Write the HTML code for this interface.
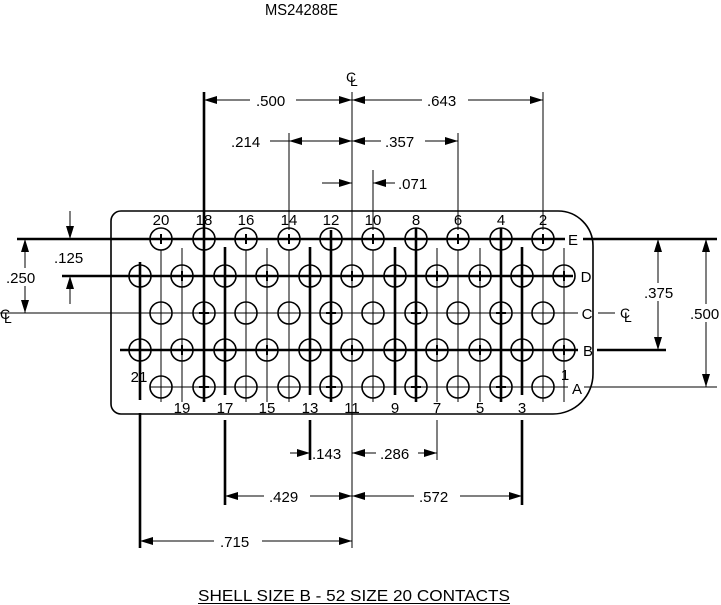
<!DOCTYPE html>
<html><head><meta charset="utf-8"><style>
html,body{margin:0;padding:0;background:#fff;}
svg{display:block;}
text{font-family:"Liberation Sans",Arial,sans-serif;fill:#000;}
</style></head><body>
<svg width="721" height="605" viewBox="0 0 721 605" xmlns="http://www.w3.org/2000/svg">
<defs>
<marker id="ar" markerWidth="13" markerHeight="8" refX="13" refY="4" orient="auto-start-reverse" markerUnits="userSpaceOnUse">
<path d="M0,0 L13,4 L0,8 z" fill="#000"/>
</marker>
<g id="c"><circle r="11" fill="none" stroke="#000" stroke-width="1.6"/></g>
<g id="p"><circle r="11" fill="none" stroke="#000" stroke-width="1.6"/><path d="M-5,0H5M0,-5V5" stroke="#000" stroke-width="2"/></g>
</defs>

<text x="265" y="15" font-size="16" textLength="73" lengthAdjust="spacingAndGlyphs">MS24288E</text>

<path d="M121,211 H558 A35,35 0 0 1 593,246 V374 A40,40 0 0 1 553,414 H121 A10,10 0 0 1 111,404 V221 A10,10 0 0 1 121,211 Z" fill="none" stroke="#000" stroke-width="1.6"/>

<g stroke="#000" stroke-width="1">
<path d="M161,250V402M182,248V402M246,250V402M267,248V402M289,250V402M352,92V548M373,250V402M437,248V402M458,250V402M480,248V402M543,250V402M564,248V402"/>
</g>
<g stroke="#000" stroke-width="2.6">
<path d="M140,262V400M140,413V548M204,92V402M225,247V395M225,420V505M310,247V395M310,420V460M331,230V402M395,247V395M416,228V402M501,228V402M522,247V395M522,420V505"/>
</g>
<g stroke="#000" stroke-width="1">
<path d="M543,92V230M289,133V230M458,133V230M373,170V230M437,420V460"/>
</g>

<g stroke="#000" stroke-width="2.6">
<path d="M17,239H565M583,239H717M62,276H573M120,350H578M597,350H666"/>
</g>
<g stroke="#000" stroke-width="1">
<path d="M0,313H578M598,313H615M150,387H568M584,387H717"/>
</g>

<g>
<use href="#p" x="161" y="239"/><use href="#p" x="204" y="239"/><use href="#p" x="246" y="239"/><use href="#p" x="289" y="239"/><use href="#p" x="331" y="239"/><use href="#p" x="373" y="239"/><use href="#p" x="416" y="239"/><use href="#p" x="458" y="239"/><use href="#p" x="501" y="239"/><use href="#p" x="543" y="239"/>
<use href="#p" x="140" y="276"/><use href="#p" x="182" y="276"/><use href="#p" x="225" y="276"/><use href="#p" x="267" y="276"/><use href="#p" x="310" y="276"/><use href="#p" x="352" y="276"/><use href="#p" x="395" y="276"/><use href="#p" x="437" y="276"/><use href="#p" x="480" y="276"/><use href="#p" x="522" y="276"/><use href="#p" x="564" y="276"/>
<use href="#c" x="161" y="313"/><use href="#p" x="204" y="313"/><use href="#c" x="246" y="313"/><use href="#c" x="289" y="313"/><use href="#p" x="331" y="313"/><use href="#c" x="373" y="313"/><use href="#p" x="416" y="313"/><use href="#c" x="458" y="313"/><use href="#p" x="501" y="313"/><use href="#c" x="543" y="313"/>
<use href="#p" x="140" y="350"/><use href="#p" x="182" y="350"/><use href="#p" x="225" y="350"/><use href="#p" x="267" y="350"/><use href="#p" x="310" y="350"/><use href="#p" x="352" y="350"/><use href="#p" x="395" y="350"/><use href="#p" x="437" y="350"/><use href="#p" x="480" y="350"/><use href="#p" x="522" y="350"/><use href="#p" x="564" y="350"/>
<use href="#c" x="161" y="387"/><use href="#p" x="204" y="387"/><use href="#c" x="246" y="387"/><use href="#c" x="289" y="387"/><use href="#p" x="331" y="387"/><use href="#c" x="373" y="387"/><use href="#p" x="416" y="387"/><use href="#c" x="458" y="387"/><use href="#p" x="501" y="387"/><use href="#c" x="543" y="387"/>
</g>

<g font-size="15" text-anchor="middle">
<text x="161" y="225">20</text><text x="204" y="225">18</text><text x="246" y="225">16</text><text x="289" y="225">14</text><text x="331" y="225">12</text><text x="373" y="225">10</text><text x="416" y="225">8</text><text x="458" y="225">6</text><text x="501" y="225">4</text><text x="543" y="225">2</text>
<text x="182" y="413">19</text><text x="225" y="413">17</text><text x="267" y="413">15</text><text x="310" y="413">13</text><text x="352" y="413">11</text><text x="395" y="413">9</text><text x="437" y="413">7</text><text x="480" y="413">5</text><text x="522" y="413">3</text>
<text x="139" y="382">21</text><text x="565" y="380">1</text>
<text x="573" y="245">E</text><text x="586" y="282">D</text><text x="587" y="319">C</text><text x="588" y="356">B</text><text x="577" y="394">A</text>
</g>

<g font-size="14">
<text x="346" y="82">C</text><text x="350" y="86">L</text>
<text x="0" y="319">C</text><text x="4" y="323">L</text>
<text x="620" y="318">C</text><text x="624" y="322">L</text>
</g>

<g stroke="#000" stroke-width="1" fill="none">
<line x1="204" y1="100" x2="352" y2="100" marker-start="url(#ar)" marker-end="url(#ar)"/>
<line x1="352" y1="100" x2="543" y2="100" marker-start="url(#ar)" marker-end="url(#ar)"/>
<line x1="289" y1="141" x2="352" y2="141" marker-start="url(#ar)" marker-end="url(#ar)"/>
<line x1="270" y1="141" x2="289" y2="141"/>
<line x1="352" y1="141" x2="458" y2="141" marker-start="url(#ar)" marker-end="url(#ar)"/>
<line x1="322" y1="183" x2="352" y2="183" marker-end="url(#ar)"/>
<line x1="395" y1="183" x2="373" y2="183" marker-end="url(#ar)"/>
<line x1="290" y1="453" x2="310" y2="453" marker-end="url(#ar)"/>
<line x1="352" y1="453" x2="437" y2="453" marker-start="url(#ar)" marker-end="url(#ar)"/>
<line x1="225" y1="496" x2="352" y2="496" marker-start="url(#ar)" marker-end="url(#ar)"/>
<line x1="352" y1="496" x2="522" y2="496" marker-start="url(#ar)" marker-end="url(#ar)"/>
<line x1="140" y1="541" x2="352" y2="541" marker-start="url(#ar)" marker-end="url(#ar)"/>
<line x1="70" y1="211" x2="70" y2="239" marker-end="url(#ar)"/>
<line x1="70" y1="304" x2="70" y2="276" marker-end="url(#ar)"/>
<line x1="25" y1="239" x2="25" y2="313" marker-start="url(#ar)" marker-end="url(#ar)"/>
<line x1="658" y1="239" x2="658" y2="350" marker-start="url(#ar)" marker-end="url(#ar)"/>
<line x1="706" y1="239" x2="706" y2="387" marker-start="url(#ar)" marker-end="url(#ar)"/>
</g>

<g fill="#fff">
<rect x="250" y="92" width="46" height="16"/>
<rect x="422" y="92" width="46" height="16"/>
<rect x="381" y="133" width="44" height="16"/>
<rect x="376" y="445" width="42" height="16"/>
<rect x="264" y="488" width="46" height="16"/>
<rect x="414" y="488" width="46" height="16"/>
<rect x="214" y="533" width="48" height="16"/>
<rect x="14" y="268" width="28" height="18"/>
<rect x="644" y="283" width="30" height="18"/>
<rect x="692" y="304" width="28" height="18"/>
</g>
<g font-size="15">
<text x="256" y="106">.500</text>
<text x="427" y="106">.643</text>
<text x="231" y="147">.214</text>
<text x="385" y="147">.357</text>
<text x="398" y="189">.071</text>
<text x="312" y="459">.143</text>
<text x="380" y="459">.286</text>
<text x="269" y="502">.429</text>
<text x="419" y="502">.572</text>
<text x="220" y="547">.715</text>
<text x="54" y="263">.125</text>
<text x="6" y="283">.250</text>
<text x="644" y="298">.375</text>
<text x="690" y="319">.500</text>
</g>

<text x="198" y="601" font-size="16" textLength="312" lengthAdjust="spacingAndGlyphs">SHELL SIZE B - 52 SIZE 20 CONTACTS</text>
<line x1="198" y1="603.5" x2="510" y2="603.5" stroke="#000" stroke-width="1"/>
</svg>
</body></html>
